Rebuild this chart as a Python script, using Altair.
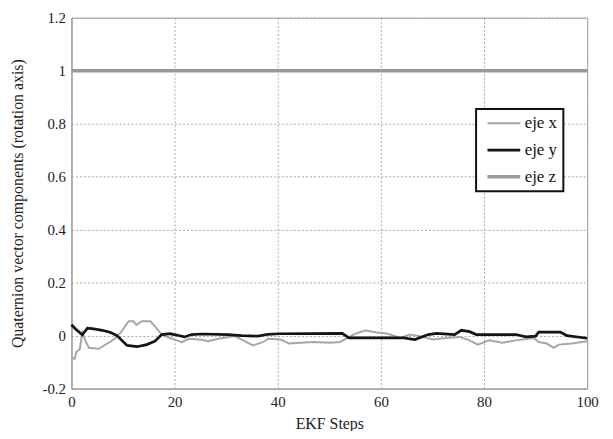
import altair as alt
import pandas as pd

# eje x (light gray)
x_steps = [0, 0.6, 1, 1.6, 2.1, 2.75, 3.4, 5.3, 8.2, 9.5, 11.1, 12, 12.6, 13.65, 15.3, 16.2, 17.5, 19.1,
           20.4, 21.4, 22.7, 25.3, 26.5, 28.5, 31.7, 33, 35.2, 37.1, 38.1, 40.6, 42.2, 44.4, 47, 50.2, 52.1,
           53.5, 55.4, 57, 59.2, 61.2, 63.8, 65.6, 67.5, 70.1, 72.6, 75.2, 76.9, 78.8, 81, 83.6, 86.2, 89.7,
           90.6, 92.2, 93.5, 94.5, 97, 100]
x_vals = [-0.084, -0.088, -0.06, -0.052, 0.01, -0.021, -0.046, -0.05, -0.015, 0.01, 0.054, 0.054, 0.04,
          0.054, 0.054, 0.035, 0.004, -0.009, -0.018, -0.025, -0.012, -0.016, -0.021, -0.012, -0.002,
          -0.015, -0.037, -0.025, -0.012, -0.015, -0.03, -0.027, -0.024, -0.027, -0.024, -0.009, 0.01,
          0.019, 0.012, 0.008, -0.009, 0.004, -0.002, -0.015, -0.009, -0.005, -0.015, -0.034, -0.018,
          -0.027, -0.018, -0.009, -0.024, -0.03, -0.046, -0.034, -0.03, -0.021]

# eje y (black)
y_steps = [0, 0.8, 2.1, 3.1, 4, 6, 7.6, 8.8, 10.8, 12.7, 14.6, 16.2, 17.5, 19.1, 19.9, 21.9, 23.3, 25.3,
           30.4, 33, 36.2, 38.1, 40.3, 52.5, 53.8, 59, 64.4, 66.6, 69.2, 70.8, 74.3, 75.6, 77.2, 78.5,
           86.2, 88.1, 90, 90.6, 94.8, 96.1, 100]
y_vals = [0.041, 0.025, 0.003, 0.028, 0.026, 0.02, 0.012, 0, -0.037, -0.042, -0.034, -0.021, 0.004,
          0.007, 0.004, -0.005, 0.004, 0.006, 0.004, 0, -0.002, 0.005, 0.007, 0.008, -0.009, -0.009,
          -0.009, -0.015, 0.004, 0.008, 0.004, 0.02, 0.015, 0.004, 0.004, -0.005, -0.002, 0.013, 0.013,
          0, -0.01]

# eje z (constant)
z_steps = [0, 100]
z_vals = [1, 1]

series_names = ["eje x", "eje y", "eje z"]
series_colors = ["#a6a6a6", "#141414", "#999999"]
series_widths = [2, 3.5, 5.5]

rows = []
for name, st, vs in zip(series_names, [x_steps, y_steps, z_steps], [x_vals, y_vals, z_vals]):
    for i, (s, v) in enumerate(zip(st, vs)):
        rows.append({"series": name, "step": s, "value": v, "ord": i})
df = pd.DataFrame(rows)

FONT = "Liberation Serif"

legend_opts = dict(title=None, orient="none", legendX=408, legendY=92,
                   symbolType="M-3,0H3", symbolSize=121, symbolOffset=13.5,
                   labelOffset=12.5, labelFontSize=17, labelFont=FONT,
                   labelColor="#111", strokeColor="#111", fillColor="white",
                   padding=6, rowPadding=9)

chart = alt.Chart(df).mark_line(strokeCap="butt").encode(
    x=alt.X("step:Q", scale=alt.Scale(domain=[0, 100], nice=False),
            axis=alt.Axis(values=[0, 20, 40, 60, 80, 100], title="EKF  Steps",
                          titleY=27, labelPadding=6, labelFlush=False)),
    y=alt.Y("value:Q", scale=alt.Scale(domain=[-0.2, 1.2], nice=False),
            axis=alt.Axis(values=[-0.2, 0, 0.2, 0.4, 0.6, 0.8, 1.0, 1.2],
                          labelExpr="datum.value < 0 ? '-' + format(-datum.value, '~g') : format(datum.value, '~g')",
                          title="Quaternion vector components (rotation axis)",
                          titleX=-46, titleY=187, labelPadding=6)),
    color=alt.Color("series:N", scale=alt.Scale(domain=series_names, range=series_colors),
                    legend=alt.Legend(**legend_opts)),
    strokeWidth=alt.StrokeWidth("series:N", scale=alt.Scale(domain=series_names, range=series_widths),
                                legend=alt.Legend(**legend_opts)),
    order="ord:Q",
).properties(
    width=520, height=374,
    autosize=alt.AutoSizeParams(type="none"),
    padding={"left": 64, "top": 8, "right": 18, "bottom": 41},
).configure_view(
    stroke="#9a9a9a", strokeWidth=1
).configure_legend(
    strokeWidth=2
).configure_axis(
    labelFont=FONT, titleFont=FONT, labelFontSize=15, titleFontSize=16,
    labelColor="#222", titleColor="#222", titleFontWeight="normal",
    grid=True, gridColor="#aaaaaa", gridDash=[2, 2], gridWidth=1,
    domainColor="#9a9a9a", ticks=False,
)

chart.save("out.html", embed_options={"renderer": "svg", "actions": False})
